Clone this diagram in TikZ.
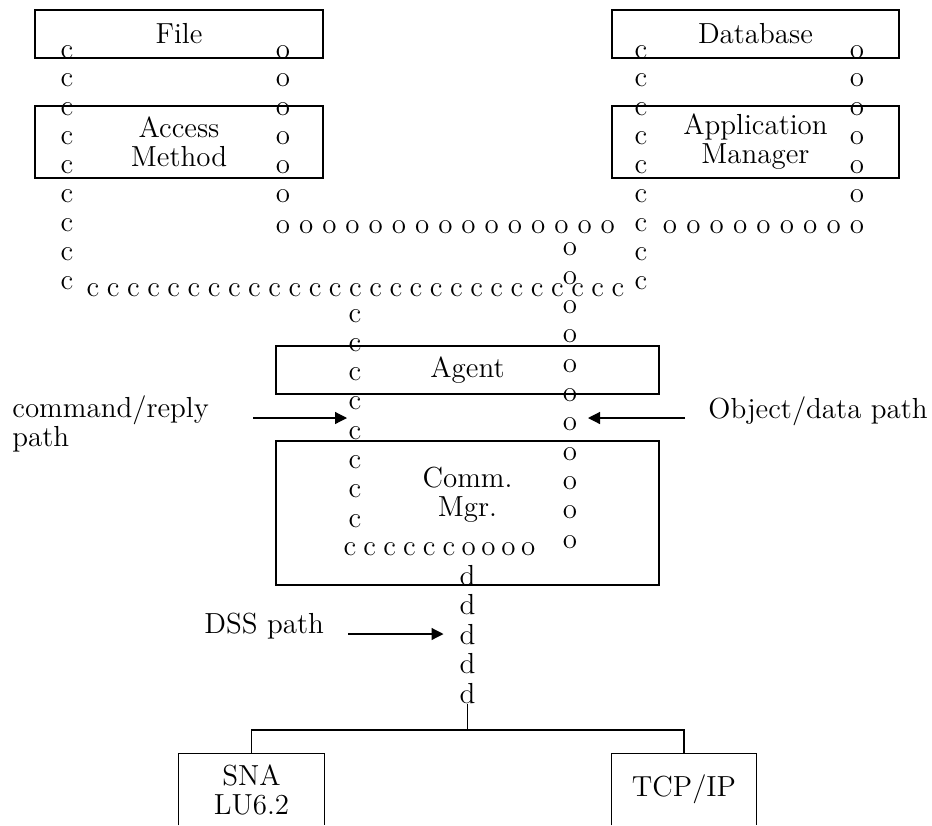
\documentclass[tikz,border=0pt]{standalone}
\usepackage{fontspec}
\usepackage{tikz}
\usetikzlibrary{arrows.meta}
\newcommand{\diagfont}{\fontsize{14.5}{14.5}\selectfont}
\tikzset{
    box/.style = {rectangle, draw=black, line width=0.8pt, align=center, font=\diagfont},
    openbox/.style = {rectangle, inner sep=0pt, align=center, font=\diagfont},
    letter/.style = {inner sep=0pt, anchor=base, font=\diagfont},
    lbl/.style = {inner sep=0pt, align=left, font=\diagfont},
    edgep/.style = {-{Triangle[length=6pt,width=6pt]}, line width=0.6pt},
    edget/.style = {line width=0.8pt},
}
\begin{document}
\begin{tikzpicture}[x=0.5pt,y=-0.5pt]
\useasboundingbox (0,0) rectangle (932,825);
%
\node[box, minimum width=144pt, minimum height=24pt] at (179,34) (file) {File};
\node[box, minimum width=144pt, minimum height=36pt] at (179,142) (access) {Access\\Method};
\node[box, minimum width=143.5pt, minimum height=24pt] at (755.5,34) (db) {Database};
\node[box, minimum width=143.5pt, minimum height=36pt] at (755.5,142) (appmgr) {Application\\Manager};
\node[box, minimum width=191.5pt, minimum height=24pt] at (467.5,370) (agent) {Agent};
\node[box, minimum width=191.5pt, minimum height=72pt] at (467.5,513) (comm) {};
\node[openbox] at (467.5,495) (commtext) {Comm.\\Mgr.};
\node[openbox, minimum width=72.5pt, minimum height=35.5pt] at (251.5,789.5) (sna) {SNA\\LU6.2};
\node[openbox, minimum width=72pt, minimum height=35.5pt] at (684,789.5) (tcp) {TCP/IP};
\draw[edget] (sna.south west) -- (sna.north west) -- (sna.north east) -- (sna.south east);
\draw[edget] (tcp.south west) -- (tcp.north west) -- (tcp.north east) -- (tcp.south east);
%
% command/reply path
\foreach \k in {0,...,8} \node[letter] (cA\k) at (67,{58+28.9*\k}) {c};
\foreach \k in {0,...,8} \node[letter] (cB\k) at (641,{58+28.9*\k}) {c};
\foreach \k in {0,...,26} \node[letter] (cR\k) at ({93+20.19*\k},296) {c};
\foreach \k in {0,...,7} \node[letter] (cC\k) at (355,{322+29.3*\k}) {c};
% object/data path
\foreach \k in {0,...,5} \node[letter] (oA\k) at (283,{58+28.9*\k}) {o};
\foreach \k in {0,...,5} \node[letter] (oB\k) at (857,{58+28.9*\k}) {o};
\foreach \k in {0,...,14} \node[letter] (oR\k) at ({283+23.2*\k},233) {o};
\foreach \k in {0,...,8} \node[letter] (oS\k) at ({670+23.375*\k},233) {o};
\foreach \k in {0,...,10} \node[letter] (oC\k) at (570,{255+29.3*\k}) {o};
% both paths inside Comm. Mgr.
\foreach \k in {0,...,5} \node[letter] (cM\k) at ({350+19.8*\k},555) {c};
\foreach \k in {6,...,9} \node[letter] (oM\k) at ({350+19.8*\k},555) {o};
% DSS path
\foreach \k in {0,...,4} \node[letter] (dd\k) at (467.6,{585+29.5*\k}) {d};
%
\node[lbl, anchor=west] at (12,424) (cmdlbl) {command/reply\\path};
\node[lbl, anchor=base west] at (708,418) (objlbl) {Object/data path};
\node[lbl, anchor=base west] at (204,633) (dsslbl) {DSS path};
%
\coordinate (cmdtail) at (253,418);
\coordinate (cmdtip) at (347,418);
\coordinate (objtail) at (685,418);
\coordinate (objtip) at (588,418);
\coordinate (dsstail) at (348,634);
\coordinate (dsstip) at (443.5,634);
\draw[edgep] (cmdtail) -- (cmdtip);
\draw[edgep] (objtail) -- (objtip);
\draw[edgep] (dsstail) -- (dsstip);
%
\coordinate (split) at (467.6,730);
\draw[edget] (dd4.south) -- (split);
\draw[edget] (sna.north) |- (split) -| (tcp.north);
\end{tikzpicture}
\end{document}
